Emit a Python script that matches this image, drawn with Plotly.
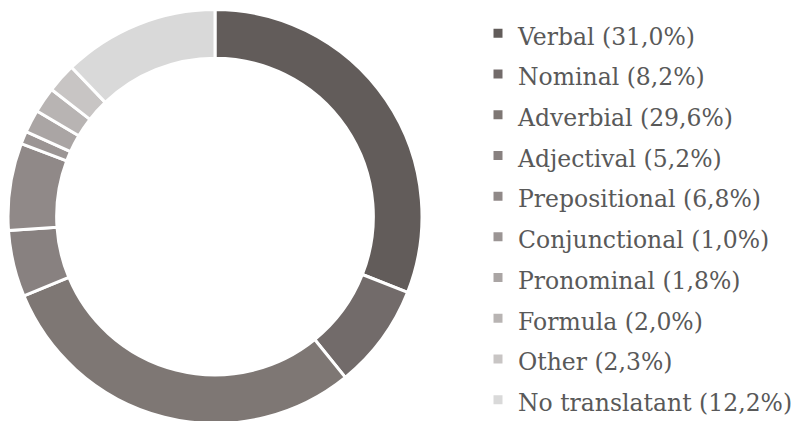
import plotly.graph_objects as go

names = ["Verbal (31,0%)", "Nominal (8,2%)", "Adverbial (29,6%)", "Adjectival (5,2%)",
         "Prepositional (6,8%)", "Conjunctional (1,0%)", "Pronominal (1,8%)",
         "Formula (2,0%)", "Other (2,3%)", "No translatant (12,2%)"]
values = [31.0, 8.2, 29.6, 5.2, 6.8, 1.0, 1.8, 2.0, 2.3, 12.2]
colors = ["#625c5a", "#726b6a", "#7e7774", "#888180", "#908988", "#9b9594",
          "#aaa5a4", "#b8b4b3", "#c8c5c4", "#d9d9d9"]

W, H = 805, 421
FONT = "DejaVu Serif"
labels = [f"<span style='font-size:23.5px'>{n}</span>" for n in names]

fig = go.Figure(go.Pie(
    labels=labels, values=values, sort=False, direction="clockwise", rotation=0,
    hole=0.765, textinfo="none",
    marker=dict(colors=colors, line=dict(color="white", width=3)),
    domain=dict(x=[0, 414 / W], y=[4 / H, 1]),
))
fig.update_layout(
    width=W, height=H, margin=dict(l=0, r=0, t=0, b=0),
    paper_bgcolor="white", plot_bgcolor="white",
    font=dict(family=FONT, color="#595959"),
    legend=dict(x=470 / W, y=1, xanchor="left", yanchor="top",
                font=dict(size=29, family=FONT, color="#595959"),
                itemwidth=30, tracegroupgap=0),
    showlegend=True,
)
fig.write_html("out.html")
